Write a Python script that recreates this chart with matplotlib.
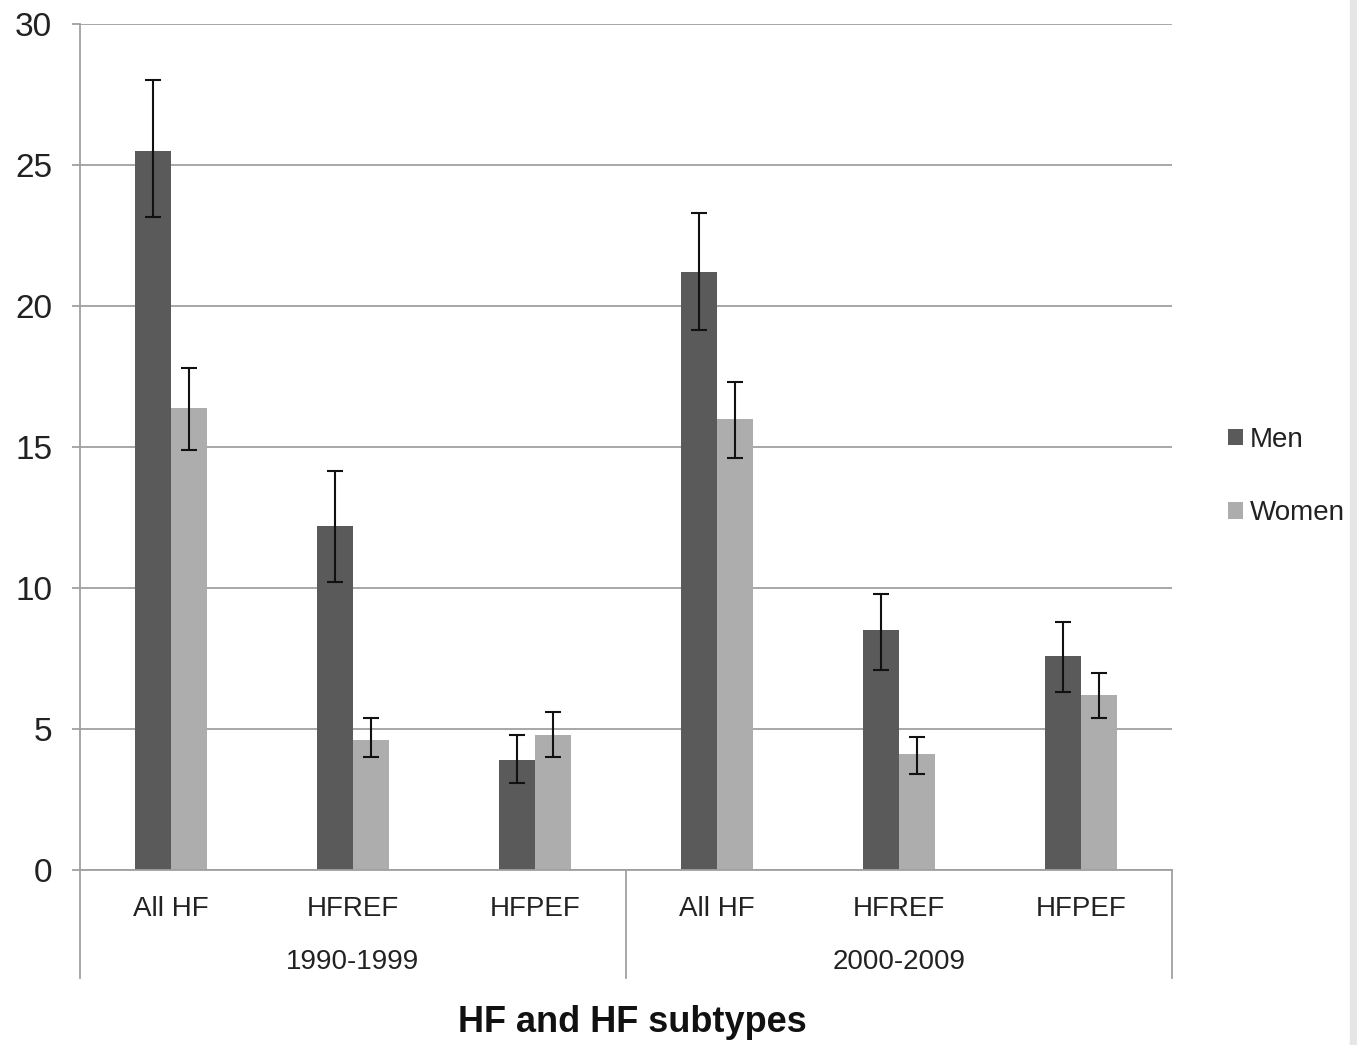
"""Incidencia de IC por sexo y periodo: barras agrupadas con barras de error."""

import matplotlib.pyplot as plt
import matplotlib.transforms as mtransforms
from matplotlib.patches import Rectangle
import numpy as np

plt.rcParams["font.family"] = ["Liberation Sans", "DejaVu Sans"]

subtypes = ["All HF", "HFREF", "HFPEF", "All HF", "HFREF", "HFPEF"]
periods = ["1990-1999", "2000-2009"]

men = [25.5, 12.2, 3.9, 21.2, 8.5, 7.6]
men_low = [23.15, 10.2, 3.1, 19.15, 7.1, 6.3]
men_high = [28.0, 14.15, 4.8, 23.3, 9.8, 8.8]

women = [16.4, 4.6, 4.8, 16.0, 4.1, 6.2]
women_low = [14.9, 4.0, 4.0, 14.6, 3.4, 5.4]
women_high = [17.8, 5.4, 5.6, 17.3, 4.7, 7.0]

men_color = "#5a5a5a"
women_color = "#adadad"
grid_color = "#a0a0a0"
text_color = "#222222"

fig = plt.figure(figsize=(13.57, 10.45), dpi=100)
ax = fig.add_axes([80 / 1357, 1 - 870 / 1045, 1092 / 1357, 846 / 1045])

x = np.arange(len(subtypes))
w = 0.2
men_err = [np.array(men) - np.array(men_low), np.array(men_high) - np.array(men)]
women_err = [np.array(women) - np.array(women_low), np.array(women_high) - np.array(women)]

ax.bar(x - w / 2, men, w, color=men_color, label="Men", zorder=2)
ax.bar(x + w / 2, women, w, color=women_color, label="Women", zorder=2)
ax.errorbar(x - w / 2, men, yerr=men_err, fmt="none", ecolor="#111111",
            elinewidth=1.5, capsize=6, capthick=1.5, zorder=3)
ax.errorbar(x + w / 2, women, yerr=women_err, fmt="none", ecolor="#111111",
            elinewidth=1.5, capsize=6, capthick=1.5, zorder=3)

ax.set_xlim(-0.5, 5.5)
ax.set_ylim(0, 30)
ax.set_yticks(range(0, 31, 5))
ax.yaxis.grid(True, color=grid_color, linewidth=1.3, zorder=0)
ax.set_axisbelow(True)
ax.tick_params(axis="y", length=6, width=1.3, color=grid_color, pad=14,
               labelsize=24, labelcolor=text_color)

ax.set_xticks(x)
ax.set_xticklabels(subtypes)
ax.tick_params(axis="x", length=0, pad=19, labelsize=20, labelcolor=text_color)

for side in ["top", "right"]:
    ax.spines[side].set_visible(False)
ax.spines["left"].set_color(grid_color)
ax.spines["left"].set_linewidth(1.3)
ax.spines["bottom"].set_color(grid_color)
ax.spines["bottom"].set_linewidth(1.3)

# separadores de los grupos bajo el eje
trans = mtransforms.blended_transform_factory(ax.transData, ax.transAxes)
for xs in [-0.5, 2.5, 5.5]:
    ax.plot([xs, xs], [0, -108 / 846], transform=trans, color=grid_color,
            linewidth=1.3, clip_on=False)
for i, period in enumerate(periods):
    ax.text(1 + 3 * i, -92 / 846, period, transform=trans, ha="center",
            va="center", fontsize=20, color=text_color)

fig.text(632 / 1357, 1 - 1022 / 1045, "HF and HF subtypes", ha="center",
         va="center", fontsize=26, fontweight="bold", color="#111111")

ax.legend(loc="center left", bbox_to_anchor=(1.051, 0.465), frameon=False,
          borderaxespad=0, borderpad=0, fontsize=20, handlelength=0.55,
          handleheight=0.55, handletextpad=0.25, labelspacing=1.72,
          labelcolor=text_color)

# franja gris del borde derecho
fig.patches.append(Rectangle((1350 / 1357, 0), 7 / 1357, 1, transform=fig.transFigure,
                             color="#e6e6e6", zorder=0))

plt.savefig("out.png", dpi=100)
plt.close()
